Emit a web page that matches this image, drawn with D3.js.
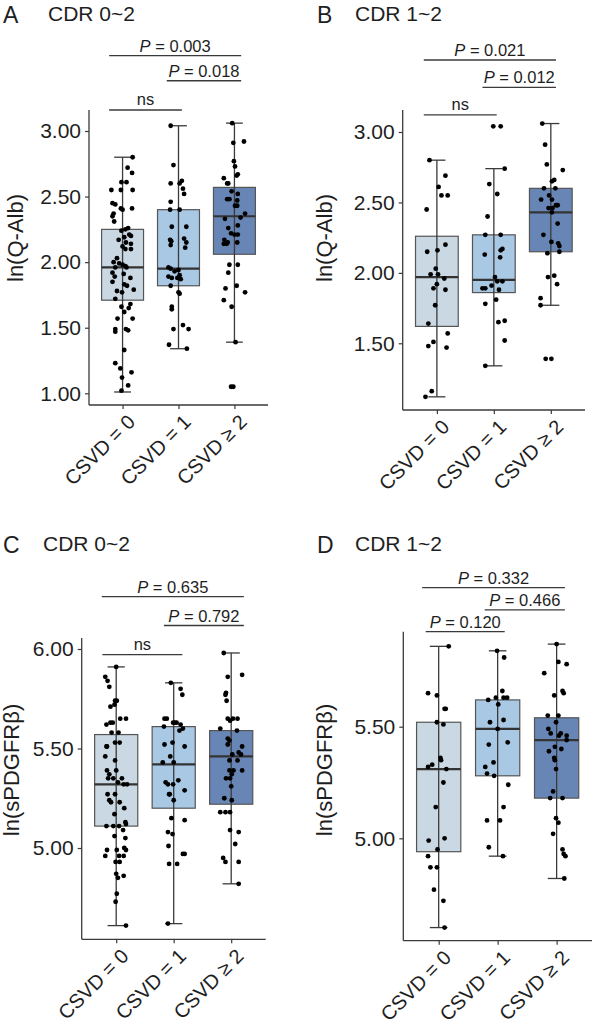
<!DOCTYPE html>
<html><head><meta charset="utf-8">
<script src="https://cdn.jsdelivr.net/npm/d3@7"></script>
<style>
body{margin:0;background:#fff}
svg{display:block}
text{font-family:"Liberation Sans",Arial,Helvetica,sans-serif}
</style>
</head><body>
<svg id="chart" width="595" height="1030"></svg>
<script>
// ---------------- DATA ----------------
const categories = ["CSVD = 0", "CSVD = 1", "CSVD \u2265 2"];

// Panel A : ln(Q-Alb), CDR 0~2
const ticksA = [1.00, 1.50, 2.00, 2.50, 3.00];
// [whisker low, Q1, median, Q3, whisker high]
const boxA = [[1.01, 1.71, 1.96, 2.25, 2.80], [1.34, 1.82, 1.95, 2.40, 3.04], [1.39, 2.06, 2.35, 2.57, 3.06]];
// points: [jitter (category units), value]
const ptsA0 = [[0.18,2.80],[0.09,2.72],[0.17,2.68],[-0.02,2.61],[0.07,2.61],[-0.20,2.55],[-0.03,2.55],[0.18,2.55],[-0.18,2.45],[-0.13,2.44],[-0.03,2.41],[0,2.40],[0.17,2.41],[-0.16,2.37],[-0.18,2.35],[-0.15,2.31],[0.05,2.25],[0.10,2.26],[-0.02,2.24],[0.12,2.21],[0.03,2.19],[0.15,2.20],[-0.07,2.17],[0.06,2.15],[0.15,2.14],[0,2.12],[0.05,2.10],[0.15,2.10],[-0.10,2.03],[-0.16,2.00],[-0.06,1.99],[0,1.98],[0.05,1.97],[0.07,1.96],[-0.13,1.96],[-0.18,1.92],[-0.14,1.89],[0.02,1.91],[0.14,1.88],[-0.18,1.85],[0.03,1.83],[0.08,1.82],[0.20,1.79],[-0.10,1.78],[-0.01,1.77],[-0.13,1.72],[-0.02,1.66],[0.14,1.68],[0.11,1.65],[0.03,1.62],[-0.09,1.57],[0.18,1.57],[-0.13,1.49],[-0.13,1.47],[0.06,1.49],[0.10,1.48],[0.03,1.33],[-0.13,1.23],[-0.04,1.19],[0.16,1.16],[-0.01,1.12],[0.10,1.06],[-0.02,1.02]];
const ptsA1 = [[-0.14,3.04],[-0.09,2.74],[-0.14,2.60],[0.02,2.60],[0.06,2.62],[0.08,2.56],[0.10,2.52],[-0.14,2.46],[-0.15,2.40],[0.02,2.40],[-0.12,2.27],[0.14,2.27],[-0.15,2.17],[-0.13,2.16],[-0.14,2.13],[0.10,2.18],[0.14,2.15],[0.12,2.11],[-0.18,1.96],[-0.14,1.95],[-0.07,1.93],[0,1.94],[0.02,1.90],[-0.18,1.89],[-0.12,1.88],[-0.02,1.88],[0.04,1.87],[-0.14,1.82],[0,1.77],[0.02,1.76],[-0.12,1.66],[-0.12,1.64],[0.08,1.52],[0.18,1.49],[-0.09,1.49],[-0.17,1.37],[0.15,1.34]];
const ptsA2 = [[-0.04,3.06],[-0.02,2.91],[0.17,2.92],[-0.01,2.77],[0.01,2.73],[0.04,2.66],[0.06,2.67],[-0.19,2.64],[-0.13,2.60],[-0.11,2.60],[-0.05,2.54],[0.06,2.52],[-0.13,2.48],[-0.09,2.48],[0.05,2.47],[0.01,2.43],[0.05,2.43],[0.19,2.37],[-0.17,2.33],[0.11,2.34],[0.06,2.28],[-0.11,2.26],[-0.06,2.22],[0,2.21],[0.06,2.21],[-0.18,2.17],[-0.12,2.15],[-0.19,2.14],[-0.14,2.14],[0.05,2.15],[-0.09,1.98],[0.06,1.98],[-0.11,1.92],[0.04,1.82],[-0.16,1.80],[0.19,1.77],[-0.19,1.71],[-0.05,1.66],[0.02,1.39],[-0.06,1.05],[-0.02,1.05]];
// significance brackets: [x start, x end] in category units, height in data units, label
const sigA = [[-0.24, 2.12, 3.574, "0.003"], [0.79, 2.12, 3.383, "0.018"], [-0.24, 1.06, 3.16, "ns"]];

// Panel B : ln(Q-Alb), CDR 1~2
const ticksB = [1.50, 2.00, 2.50, 3.00];
const boxB = [[1.12, 1.62, 1.97, 2.26, 2.80], [1.34, 1.86, 1.95, 2.27, 2.74], [1.77, 2.15, 2.43, 2.60, 3.06]];
const ptsB0 = [[-0.13,2.80],[0.15,2.69],[0.03,2.61],[0.08,2.55],[0.19,2.55],[-0.18,2.45],[-0.17,2.15],[0.15,2.20],[0.01,2.16],[-0.02,2.03],[-0.11,1.99],[0.02,1.99],[0.13,1.96],[0,1.92],[-0.06,1.89],[0.15,1.88],[-0.03,1.77],[-0.15,1.64],[0.19,1.57],[-0.06,1.51],[-0.15,1.48],[0.17,1.47],[-0.09,1.16],[-0.20,1.12]];
const ptsB1 = [[-0.01,3.04],[0.12,3.04],[0.19,2.74],[-0.08,2.63],[0.06,2.56],[-0.11,2.40],[-0.15,2.27],[0.12,2.27],[-0.16,2.13],[0.15,2.17],[0.12,2.16],[0.11,2.11],[0.02,1.97],[0.06,1.94],[0.15,1.94],[-0.20,1.89],[-0.15,1.89],[-0.04,1.91],[0.09,1.88],[-0.15,1.78],[0.04,1.81],[0.08,1.65],[0.19,1.66],[0.19,1.52],[-0.15,1.34]];
const ptsB2 = [[-0.15,3.06],[-0.10,2.91],[-0.07,2.77],[0.21,2.73],[0.06,2.66],[0.02,2.65],[-0.12,2.60],[0.08,2.60],[-0.03,2.55],[-0.17,2.52],[0.02,2.52],[0.12,2.48],[0.09,2.48],[-0.04,2.46],[0.03,2.46],[0.02,2.43],[0.12,2.35],[-0.13,2.27],[0.01,2.22],[0.13,2.21],[0.15,2.19],[0.15,2.15],[-0.06,2.14],[-0.05,1.97],[0.06,1.98],[0.11,1.92],[-0.18,1.82],[-0.18,1.77],[-0.09,1.39],[0.01,1.39]];
const sigB = [[-0.23, 2.09, 3.511, "0.021"], [0.80, 2.09, 3.317, "0.012"], [-0.23, 1.05, 3.121, "ns"]];

// Panel C : ln(sPDGFRβ), CDR 0~2
const ticksC = [5.00, 5.50, 6.00];
const boxC = [[4.61, 5.11, 5.32, 5.57, 5.91], [4.62, 5.20, 5.42, 5.61, 5.83], [4.82, 5.22, 5.46, 5.59, 5.98]];
const ptsC0 = [[0,5.91],[-0.19,5.86],[-0.15,5.84],[-0.12,5.81],[-0.02,5.74],[0.01,5.74],[-0.10,5.71],[-0.03,5.72],[-0.17,5.62],[-0.10,5.63],[-0.06,5.63],[0.07,5.65],[0.17,5.65],[-0.08,5.58],[0.04,5.58],[-0.17,5.51],[-0.16,5.51],[-0.02,5.53],[0.06,5.53],[-0.19,5.46],[-0.02,5.44],[-0.16,5.39],[0,5.39],[-0.12,5.37],[-0.14,5.35],[-0.05,5.35],[0.10,5.35],[0.03,5.33],[0.13,5.32],[0.19,5.32],[-0.15,5.27],[-0.02,5.27],[-0.12,5.24],[-0.09,5.23],[0.06,5.23],[0.14,5.20],[-0.03,5.17],[0.16,5.13],[0.17,5.12],[-0.17,5.11],[-0.05,5.11],[0.05,5.11],[0.12,5.09],[0.16,5.05],[-0.03,5.06],[0.14,5.00],[0.17,4.99],[-0.16,4.99],[-0.19,4.96],[0.01,4.99],[0.05,4.96],[0.13,4.96],[-0.01,4.93],[0.06,4.93],[0,4.87],[0.13,4.86],[0.03,4.85],[0.01,4.77],[-0.01,4.73],[0.17,4.61]];
const ptsC1 = [[-0.05,5.83],[0.12,5.80],[0.15,5.77],[-0.16,5.65],[-0.12,5.65],[-0.01,5.63],[0.02,5.63],[0.05,5.63],[0.12,5.62],[0.16,5.60],[-0.17,5.61],[0.10,5.59],[-0.16,5.52],[-0.02,5.53],[0.19,5.51],[-0.06,5.46],[-0.19,5.43],[0,5.43],[-0.14,5.33],[-0.10,5.32],[-0.01,5.32],[0.08,5.34],[-0.08,5.27],[-0.07,5.27],[0,5.24],[0.19,5.29],[-0.04,5.15],[0.19,5.14],[-0.10,5.08],[-0.02,5.07],[-0.09,5.01],[0.19,4.97],[0.16,4.97],[-0.08,4.92],[0.06,4.92],[-0.10,4.62]];
const ptsC2 = [[-0.13,5.98],[0.19,5.87],[-0.06,5.86],[-0.09,5.78],[-0.10,5.77],[-0.08,5.74],[-0.06,5.65],[0.03,5.65],[-0.02,5.64],[0.11,5.65],[-0.19,5.60],[0.10,5.59],[-0.06,5.55],[-0.03,5.54],[-0.06,5.52],[0.19,5.51],[0.13,5.48],[0.17,5.47],[0.02,5.47],[-0.03,5.44],[0.11,5.44],[-0.03,5.39],[0.04,5.39],[0.01,5.37],[0.19,5.39],[-0.02,5.35],[-0.09,5.35],[0,5.31],[-0.12,5.25],[0.01,5.24],[-0.19,5.18],[-0.10,5.18],[-0.02,5.18],[-0.02,5.09],[0.13,5.08],[0.07,5.02],[-0.14,4.95],[-0.10,4.93],[0.13,4.93],[0.13,4.82]];
const sigC = [[-0.25, 2.22, 6.263, "0.635"], [0.83, 2.22, 6.118, "0.792"], [-0.24, 1.15, 5.972, "ns"]];

// Panel D : ln(sPDGFRβ), CDR 1~2
const ticksD = [5.00, 5.50];
const boxD = [[4.60, 4.94, 5.31, 5.52, 5.86], [4.92, 5.28, 5.49, 5.62, 5.84], [4.82, 5.18, 5.44, 5.54, 5.87]];
const ptsD0 = [[0.17,5.86],[-0.18,5.65],[-0.03,5.64],[0.10,5.58],[0.12,5.58],[-0.03,5.52],[0.08,5.51],[0.03,5.36],[0.04,5.35],[-0.11,5.33],[-0.18,5.32],[0.13,5.31],[0.08,5.25],[-0.05,5.14],[-0.17,4.99],[0.10,5.00],[-0.02,4.95],[-0.18,4.92],[-0.14,4.87],[-0.03,4.87],[-0.08,4.77],[0.08,4.72],[0.10,4.60]];
const ptsD1 = [[-0.01,5.84],[0.11,5.81],[0.08,5.66],[-0.03,5.63],[0.10,5.63],[0.16,5.63],[-0.16,5.62],[0.01,5.60],[-0.13,5.52],[0.10,5.53],[0,5.49],[0.17,5.43],[-0.15,5.42],[-0.07,5.34],[-0.21,5.32],[-0.18,5.29],[-0.06,5.28],[0.18,5.24],[0.10,5.14],[-0.18,5.08],[0.04,5.08],[-0.15,4.96],[0.09,4.92]];
const ptsD2 = [[0,5.87],[0.03,5.79],[0.17,5.78],[-0.21,5.74],[0.10,5.66],[0.12,5.65],[-0.04,5.64],[-0.15,5.55],[0.03,5.55],[-0.01,5.52],[-0.14,5.49],[-0.10,5.47],[0.07,5.47],[0.04,5.46],[0.17,5.46],[0.17,5.44],[-0.13,5.39],[0.08,5.40],[-0.03,5.41],[-0.04,5.36],[-0.03,5.35],[-0.01,5.31],[-0.06,5.21],[-0.11,5.18],[0.10,5.18],[-0.01,5.09],[0.03,5.07],[-0.06,5.02],[0.10,4.95],[0.12,4.93],[0.15,4.92],[0.13,4.82]];
const sigD = [[-0.28, 2.14, 6.123, "0.332"], [0.78, 2.14, 6.023, "0.466"], [-0.22, 1.12, 5.926, "0.120"]];

// ---------------- STYLE ----------------
const fills = ["#c9d8e3", "#a9c8e4", "#6886b5"];
const ink = "#1e1e1e";
const lineCol = "#3a3a3a";

const svg = d3.select("#chart");

function drawPanel(p) {
  const g = svg.append("g");
  const x = d3.scaleLinear().domain([-0.6, 2.6]).range([p.left, p.right]);
  const y = d3.scaleLinear().domain(p.yDom).range(p.yRng);

  // panel letter + title
  g.append("text").attr("x", p.letterX).attr("y", p.letterY).attr("font-size", 23).attr("fill", ink).text(p.letter);
  g.append("text").attr("x", p.titleX).attr("y", p.letterY - 2).attr("font-size", 21).attr("fill", ink).text(p.title);

  // y axis
  const yAxis = d3.axisLeft(y).tickValues(p.ticks).tickFormat(d3.format(".2f")).tickSize(4).tickPadding(4).tickSizeOuter(0);
  const ya = g.append("g").attr("transform", `translate(${p.left},0)`).call(yAxis);
  ya.select(".domain").remove();
  ya.selectAll(".tick line").attr("stroke", lineCol).attr("stroke-width", 1.2);
  ya.selectAll(".tick text").attr("font-size", 21).attr("fill", ink).attr("font-family", "Liberation Sans, Arial, sans-serif");
  g.append("line").attr("x1", p.left).attr("x2", p.left).attr("y1", p.top).attr("y2", p.bottom)
    .attr("stroke", lineCol).attr("stroke-width", 1.3);

  // x axis
  const xAxis = d3.axisBottom(x).tickValues([0, 1, 2]).tickFormat(i => categories[i]).tickSize(4).tickSizeOuter(0);
  const xa = g.append("g").attr("transform", `translate(0,${p.bottom})`).call(xAxis);
  xa.select(".domain").remove();
  xa.selectAll(".tick line").attr("stroke", lineCol).attr("stroke-width", 1.2);
  xa.selectAll(".tick text")
    .attr("font-size", 20).attr("fill", ink).attr("font-family", "Liberation Sans, Arial, sans-serif")
    .attr("text-anchor", "end").attr("y", 0).attr("dy", "0.72em")
    .attr("transform", "translate(3,8) rotate(-45)");
  g.append("line").attr("x1", p.left).attr("x2", p.right).attr("y1", p.bottom).attr("y2", p.bottom)
    .attr("stroke", lineCol).attr("stroke-width", 1.3);

  // y-axis title
  g.append("text").attr("transform", `translate(${p.ylabX},${p.ylabY}) rotate(-90)`)
    .attr("text-anchor", "middle").attr("font-size", 22).attr("fill", ink).text(p.ylab);

  // boxes
  p.boxes.forEach((b, i) => {
    const [lo, q1, med, q3, hi] = b;
    g.append("rect").attr("x", x(i - 0.375)).attr("width", x(i + 0.375) - x(i - 0.375))
      .attr("y", y(q3)).attr("height", y(q1) - y(q3))
      .attr("fill", fills[i]).attr("stroke", "#555").attr("stroke-width", 1.2);
    g.append("line").attr("x1", x(i)).attr("x2", x(i)).attr("y1", y(hi)).attr("y2", y(lo))
      .attr("stroke", lineCol).attr("stroke-width", 1.3);
    [lo, hi].forEach(v => g.append("line").attr("x1", x(i - 0.15)).attr("x2", x(i + 0.15))
      .attr("y1", y(v)).attr("y2", y(v)).attr("stroke", lineCol).attr("stroke-width", 1.3));
    g.append("line").attr("x1", x(i - 0.375)).attr("x2", x(i + 0.375)).attr("y1", y(med)).attr("y2", y(med))
      .attr("stroke", "#333").attr("stroke-width", 2.2);
  });

  // points
  p.points.forEach((arr, i) => {
    g.selectAll(null).data(arr).enter().append("circle")
      .attr("cx", d => x(i + d[0])).attr("cy", d => y(d[1])).attr("r", 2.4).attr("fill", "#000");
  });

  // significance
  p.sig.forEach(s => {
    const [a, b, h, lab] = s;
    g.append("line").attr("x1", x(a)).attr("x2", x(b)).attr("y1", y(h)).attr("y2", y(h))
      .attr("stroke", lineCol).attr("stroke-width", 1.3);
    const t = g.append("text").attr("x", (x(a) + x(b)) / 2).attr("y", y(h) - 4)
      .attr("text-anchor", "middle").attr("font-size", 16.5).attr("fill", ink);
    if (lab === "ns") {
      t.attr("y", y(h) - 5).text("ns");
    } else {
      t.append("tspan").attr("font-style", "italic").text("P");
      t.append("tspan").text(" = " + lab);
    }
  });
}

drawPanel({letter: "A", title: "CDR 0~2", letterX: 3, letterY: 23, titleX: 48,
  left: 89, right: 268, top: 110, bottom: 405, yDom: [1, 3], yRng: [393.3, 131],
  ticks: ticksA, ylab: "ln(Q-Alb)", ylabX: 23, ylabY: 238,
  boxes: boxA, points: [ptsA0, ptsA1, ptsA2], sig: sigA});
drawPanel({letter: "B", title: "CDR 1~2", letterX: 317, letterY: 23, titleX: 355,
  left: 402.7, right: 585, top: 110, bottom: 410, yDom: [1.5, 3], yRng: [343.3, 132],
  ticks: ticksB, ylab: "ln(Q-Alb)", ylabX: 332, ylabY: 238,
  boxes: boxB, points: [ptsB0, ptsB1, ptsB2], sig: sigB});
drawPanel({letter: "C", title: "CDR 0~2", letterX: 3, letterY: 553, titleX: 43,
  left: 81.7, right: 265.7, top: 638, bottom: 939.3, yDom: [5, 6], yRng: [848, 649],
  ticks: ticksC, ylab: "ln(sPDGFR\u03b2)", ylabX: 19, ylabY: 770,
  boxes: boxC, points: [ptsC0, ptsC1, ptsC2], sig: sigC});
drawPanel({letter: "D", title: "CDR 1~2", letterX: 317, letterY: 553, titleX: 355,
  left: 403.3, right: 592, top: 631.7, bottom: 940.7, yDom: [5, 5.5], yRng: [838.3, 726.7],
  ticks: ticksD, ylab: "ln(sPDGFR\u03b2)", ylabX: 332, ylabY: 770,
  boxes: boxD, points: [ptsD0, ptsD1, ptsD2], sig: sigD});
</script>
</body></html>
